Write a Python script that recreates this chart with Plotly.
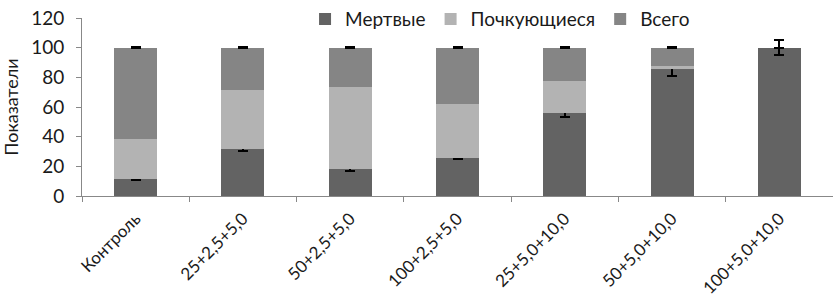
import plotly.graph_objects as go

categories = ["Контроль", "25+2,5+5,0", "50+2,5+5,0", "100+2,5+5,0",
              "25+5,0+10,0", "50+5,0+10,0", "100+5,0+10,0"]
dead = [11.3, 32, 18, 25.7, 56.2, 85.5, 100]
dead_err = [0.7, 1.5, 1.0, 1.0, 2.8, 4.5, 5.0]
budding = [27.1, 39.5, 55.2, 36.3, 21.5, 2.0, 0]
total_rest = [61.6, 28.5, 26.8, 38.0, 22.3, 12.5, 0]
total_err = [0.3, 0.3, 0.3, 0.3, 0.3, 0.3, None]
series_names = ["Мертвые", "Почкующиеся", "Всего"]
yticks = [0, 20, 40, 60, 80, 100, 120]

FONT = "Lato"
fig = go.Figure()
fig.add_trace(go.Bar(name=series_names[0], x=categories, y=dead,
                     marker=dict(color="#636363", line=dict(width=0)),
                     error_y=dict(type="data", array=dead_err, color="black",
                                  thickness=1.8, width=5)))
fig.add_trace(go.Bar(name=series_names[1], x=categories, y=budding,
                     marker=dict(color="#b3b3b3", line=dict(width=0))))
fig.add_trace(go.Bar(name=series_names[2], x=categories, y=total_rest,
                     marker=dict(color="#858585", line=dict(width=0)),
                     error_y=dict(type="data", array=total_err, color="black",
                                  thickness=1.8, width=5)))

fig.update_layout(
    barmode="stack", bargap=0.6,
    width=833, height=304,
    margin=dict(l=82, r=0, t=8, b=108),
    paper_bgcolor="white", plot_bgcolor="white",
    font=dict(family=FONT, color="#1a1a1a", size=18),
    legend=dict(orientation="h", x=0.297, y=1.1,
                xanchor="left", yanchor="top",
                font=dict(size=19), bgcolor="rgba(0,0,0,0)",
                traceorder="normal", itemwidth=30),
    showlegend=True,
)
fig.update_xaxes(showline=True, linecolor="#888888", linewidth=1,
                 ticks="outside", tickson="boundaries", ticklen=5,
                 tickcolor="#888888", tickangle=-45, automargin=False,
                 ticklabelstandoff=5,
                 tickfont=dict(size=17, family=FONT))
fig.update_yaxes(range=[0, 120], tickvals=yticks, showline=True,
                 linecolor="#888888", linewidth=1, showgrid=False,
                 zeroline=False, ticks="outside", ticklen=5, tickcolor="#888888",
                 ticklabelstandoff=8, automargin=False, ticklabeloverflow="allow",
                 tickfont=dict(size=19, family=FONT),
                 title=dict(text="Показатели", font=dict(size=18, family=FONT), standoff=14))

fig.write_html("out.html", config={"displayModeBar": False},
               post_script="document.body.style.margin='0';")
